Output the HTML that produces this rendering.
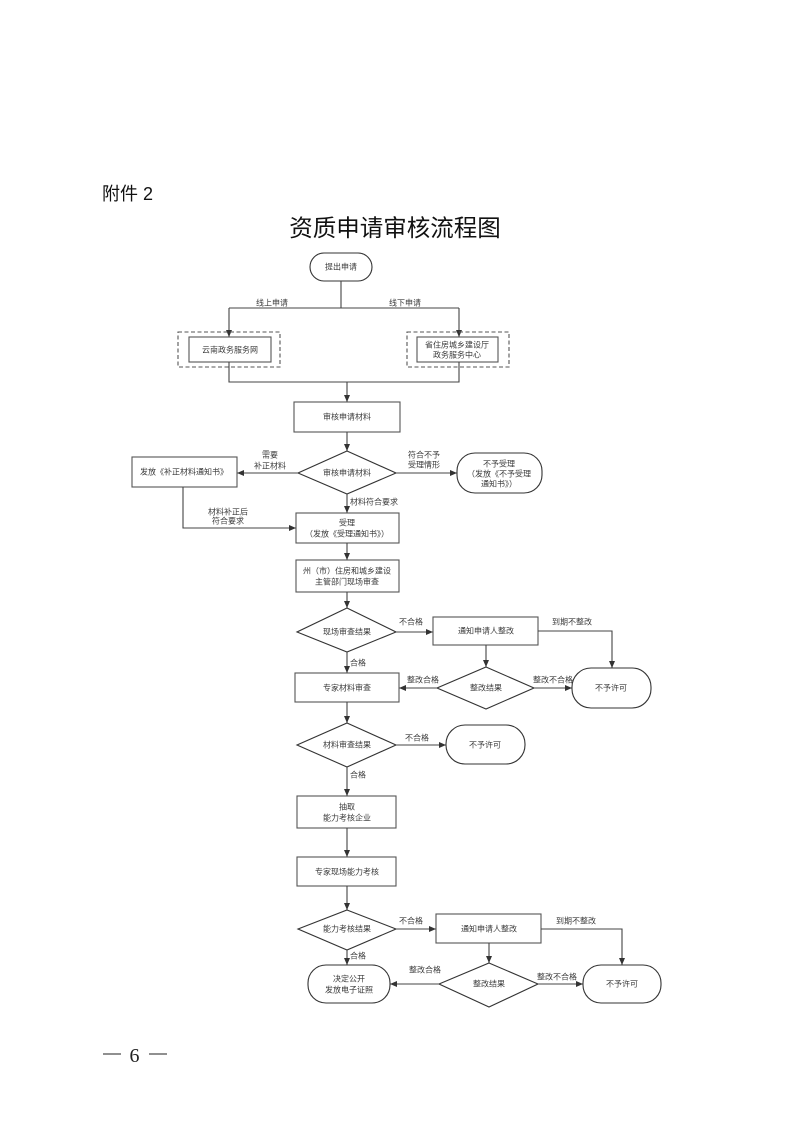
<!DOCTYPE html>
<html><head><meta charset="utf-8"><style>
html,body{margin:0;padding:0;background:#fff;}
svg{display:block;}
text{font-family:"Liberation Sans","Noto Sans CJK SC",sans-serif;}
.t{font-size:8px;fill:#3a3a3a;text-anchor:middle;dominant-baseline:central;}
.tl{font-size:8px;fill:#3a3a3a;text-anchor:start;dominant-baseline:central;}
.box{fill:#fff;stroke:#555;stroke-width:1.1;}
.term{fill:#fff;stroke:#333;stroke-width:1.1;}
.dia{fill:#fff;stroke:#333;stroke-width:1.1;}
.dash{fill:none;stroke:#555;stroke-width:1.1;stroke-dasharray:4,2.5;}
.ln{fill:none;stroke:#444;stroke-width:1.1;}
.ar{fill:none;stroke:#444;stroke-width:1.1;marker-end:url(#a);}
</style></head><body>
<svg width="793" height="1122" viewBox="0 0 793 1122" xmlns="http://www.w3.org/2000/svg">
<defs>
<marker id="a" markerWidth="8" markerHeight="8" refX="7" refY="4" orient="auto" markerUnits="userSpaceOnUse">
<path d="M0,1 L7,4 L0,7 Z" fill="#333"/>
</marker>
</defs>
<rect width="793" height="1122" fill="#fff"/>

<text x="102" y="200" style="font-size:18px;fill:#111;font-family:'Liberation Sans','Noto Sans CJK SC',sans-serif;">附件 2</text>
<text x="395" y="236" style="font-size:23.5px;fill:#111;text-anchor:middle;">资质申请审核流程图</text>

<!-- start -->
<rect class="term" x="310" y="253" width="62" height="28" rx="14"/>
<text class="t" x="341" y="267">提出申请</text>
<path class="ln" d="M341,281 V308 M229,308 H459"/>
<path class="ar" d="M229,308 V337"/>
<path class="ar" d="M459,308 V337"/>
<text class="t" x="272" y="303">线上申请</text>
<text class="t" x="405" y="303">线下申请</text>

<rect class="dash" x="178" y="332" width="102" height="35"/>
<rect class="box" x="189" y="337" width="82" height="25"/>
<text class="t" x="230" y="350">云南政务服务网</text>
<rect class="dash" x="407" y="332" width="102" height="35"/>
<rect class="box" x="417" y="337" width="81" height="25"/>
<text class="t" x="457" y="345">省住房城乡建设厅</text>
<text class="t" x="457" y="355">政务服务中心</text>

<path class="ln" d="M229,362 V382 H459 V362"/>
<path class="ar" d="M347,382 V402"/>

<rect class="box" x="294" y="402" width="106" height="30"/>
<text class="t" x="347" y="417">审核申请材料</text>
<path class="ar" d="M347,432 V451"/>

<polygon class="dia" points="347,451 396,473 347,494 298,473"/>
<text class="t" x="347" y="473">审核申请材料</text>

<path class="ar" d="M298,473 H237"/>
<text class="t" x="270" y="455">需要</text>
<text class="t" x="270" y="466">补正材料</text>
<rect class="box" x="132" y="457" width="105" height="30"/>
<text class="t" x="184" y="472">发放《补正材料通知书》</text>

<path class="ar" d="M396,473 H457"/>
<text class="t" x="424" y="455">符合不予</text>
<text class="t" x="424" y="465">受理情形</text>
<rect class="term" x="457" y="453" width="85" height="40" rx="18"/>
<text class="t" x="499" y="464">不予受理</text>
<text class="t" x="499" y="474">（发放《不予受理</text>
<text class="t" x="499" y="484">通知书》）</text>

<path class="ar" d="M183,487 V528 H296"/>
<text class="t" x="228" y="512">材料补正后</text>
<text class="t" x="228" y="521">符合要求</text>

<path class="ar" d="M347,494 V513"/>
<text class="tl" x="350" y="502">材料符合要求</text>

<rect class="box" x="296" y="513" width="103" height="30"/>
<text class="t" x="347" y="523">受理</text>
<text class="t" x="347" y="534">（发放《受理通知书》）</text>
<path class="ar" d="M347,543 V560"/>

<rect class="box" x="296" y="560" width="103" height="32"/>
<text class="t" x="347" y="571">州（市）住房和城乡建设</text>
<text class="t" x="347" y="582">主管部门现场审查</text>
<path class="ar" d="M347,592 V608"/>

<polygon class="dia" points="347,608 396,632 347,652 297,632"/>
<text class="t" x="347" y="632">现场审查结果</text>
<path class="ar" d="M396,632 H433"/>
<text class="t" x="411" y="622">不合格</text>
<rect class="box" x="433" y="617" width="105" height="28"/>
<text class="t" x="486" y="631">通知申请人整改</text>
<path class="ar" d="M538,631 H612 V668"/>
<text class="t" x="572" y="622">到期不整改</text>
<path class="ar" d="M486,645 V667"/>
<polygon class="dia" points="486,667 534,688 486,709 437,688"/>
<text class="t" x="486" y="688">整改结果</text>
<path class="ar" d="M437,688 H399"/>
<text class="t" x="423" y="680">整改合格</text>
<path class="ar" d="M534,688 H572"/>
<text class="t" x="553" y="680">整改不合格</text>
<rect class="term" x="572" y="668" width="79" height="40" rx="19"/>
<text class="t" x="611" y="688">不予许可</text>

<path class="ar" d="M347,652 V673"/>
<text class="tl" x="350" y="663">合格</text>
<rect class="box" x="295" y="673" width="104" height="29"/>
<text class="t" x="347" y="688">专家材料审查</text>
<path class="ar" d="M347,702 V723"/>

<polygon class="dia" points="347,723 396,745 347,767 297,745"/>
<text class="t" x="347" y="745">材料审查结果</text>
<path class="ar" d="M396,745 H446"/>
<text class="t" x="417" y="738">不合格</text>
<rect class="term" x="446" y="725" width="79" height="39" rx="19"/>
<text class="t" x="485" y="745">不予许可</text>

<path class="ar" d="M347,767 V796"/>
<text class="tl" x="350" y="775">合格</text>
<rect class="box" x="297" y="796" width="99" height="32"/>
<text class="t" x="347" y="807">抽取</text>
<text class="t" x="347" y="818">能力考核企业</text>
<path class="ar" d="M347,828 V857"/>
<rect class="box" x="297" y="857" width="99" height="29"/>
<text class="t" x="347" y="872">专家现场能力考核</text>
<path class="ar" d="M347,886 V910"/>

<polygon class="dia" points="347,910 396,929 347,950 298,929"/>
<text class="t" x="347" y="929">能力考核结果</text>
<path class="ar" d="M396,929 H436"/>
<text class="t" x="411" y="921">不合格</text>
<rect class="box" x="436" y="914" width="105" height="29"/>
<text class="t" x="489" y="929">通知申请人整改</text>
<path class="ar" d="M541,929 H622 V965"/>
<text class="t" x="576" y="921">到期不整改</text>
<path class="ar" d="M489,943 V963"/>
<polygon class="dia" points="489,963 538,984 489,1007 439,984"/>
<text class="t" x="489" y="984">整改结果</text>
<path class="ar" d="M439,984 H390"/>
<text class="t" x="425" y="970">整改合格</text>
<path class="ar" d="M538,984 H583"/>
<text class="t" x="557" y="977">整改不合格</text>
<rect class="term" x="583" y="965" width="78" height="38" rx="18"/>
<text class="t" x="622" y="984">不予许可</text>

<path class="ar" d="M347,950 V965"/>
<text class="tl" x="350" y="956">合格</text>
<rect class="term" x="308" y="965" width="82" height="38" rx="18"/>
<text class="t" x="349" y="979">决定公开</text>
<text class="t" x="349" y="990">发放电子证照</text>

<!-- footer -->
<line x1="103" y1="1054" x2="121" y2="1054" stroke="#222" stroke-width="1"/>
<text x="134.5" y="1062" style="font-family:'Liberation Serif',serif;font-size:20px;fill:#222;text-anchor:middle;">6</text>
<line x1="149" y1="1054" x2="167" y2="1054" stroke="#222" stroke-width="1"/>
</svg>
</body></html>
